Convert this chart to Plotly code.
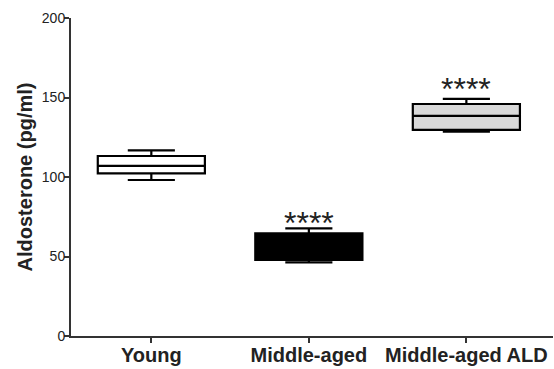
import plotly.graph_objects as go

groups = ["Young", "Middle-aged", "Middle-aged ALD"]
lower = [98.1, 46.3, 128.5]
q1 = [102.3, 47.8, 129.6]
median = [107.0, 56.0, 138.4]
q3 = [113.2, 64.6, 145.9]
upper = [116.8, 67.7, 149.1]
fills = ["white", "black", "#d9d9d9"]
sig_labels = ["", "****", "****"]
sig_y = [0, 74.2, 158.5]
y_ticks = [0, 50, 100, 150, 200]

FONT = "Arial, Liberation Sans, sans-serif"
fig = go.Figure()
for i, g in enumerate(groups):
    fig.add_trace(go.Box(
        x=[g], q1=[q1[i]], median=[median[i]], q3=[q3[i]],
        lowerfence=[lower[i]], upperfence=[upper[i]],
        fillcolor=fills[i], line=dict(color="black", width=2.2),
        width=0.68, whiskerwidth=0.44, boxpoints=False, showlegend=False,
        hoverinfo="skip"))
    if sig_labels[i]:
        fig.add_annotation(x=g, y=sig_y[i], text=sig_labels[i], showarrow=False,
                           font=dict(family=FONT, size=32, color="#222"),
                           yanchor="middle", yshift=-5)

fig.update_layout(
    width=554, height=369, margin=dict(l=71, r=1, t=18, b=33),
    plot_bgcolor="white", paper_bgcolor="white",
    font=dict(family=FONT, color="#222"),
)
fig.update_xaxes(
    type="category", categoryorder="array", categoryarray=groups,
    range=[-0.51, 2.55], showline=True, linecolor="#333", linewidth=2,
    ticks="outside", ticklen=5, tickwidth=2, tickcolor="#333",
    tickfont=dict(family=FONT, size=20, color="#222"), showgrid=False,
    tickprefix="<b>", ticksuffix="</b>", automargin=False, ticklabelstandoff=-5)
fig.update_yaxes(
    range=[0, 200], tickvals=y_ticks, showline=True, linecolor="#333", linewidth=2,
    ticks="outside", ticklen=5, tickwidth=2, tickcolor="#333",
    tickfont=dict(family=FONT, size=14, color="#222"), showgrid=False, zeroline=False,
    tickprefix="<b>", ticksuffix="</b>", ticklabelstandoff=-4, automargin=False,
    title=dict(text="<b>Aldosterone (pg/ml)</b>", font=dict(family=FONT, size=20, color="#222"), standoff=4))

fig.write_html("out.html")
